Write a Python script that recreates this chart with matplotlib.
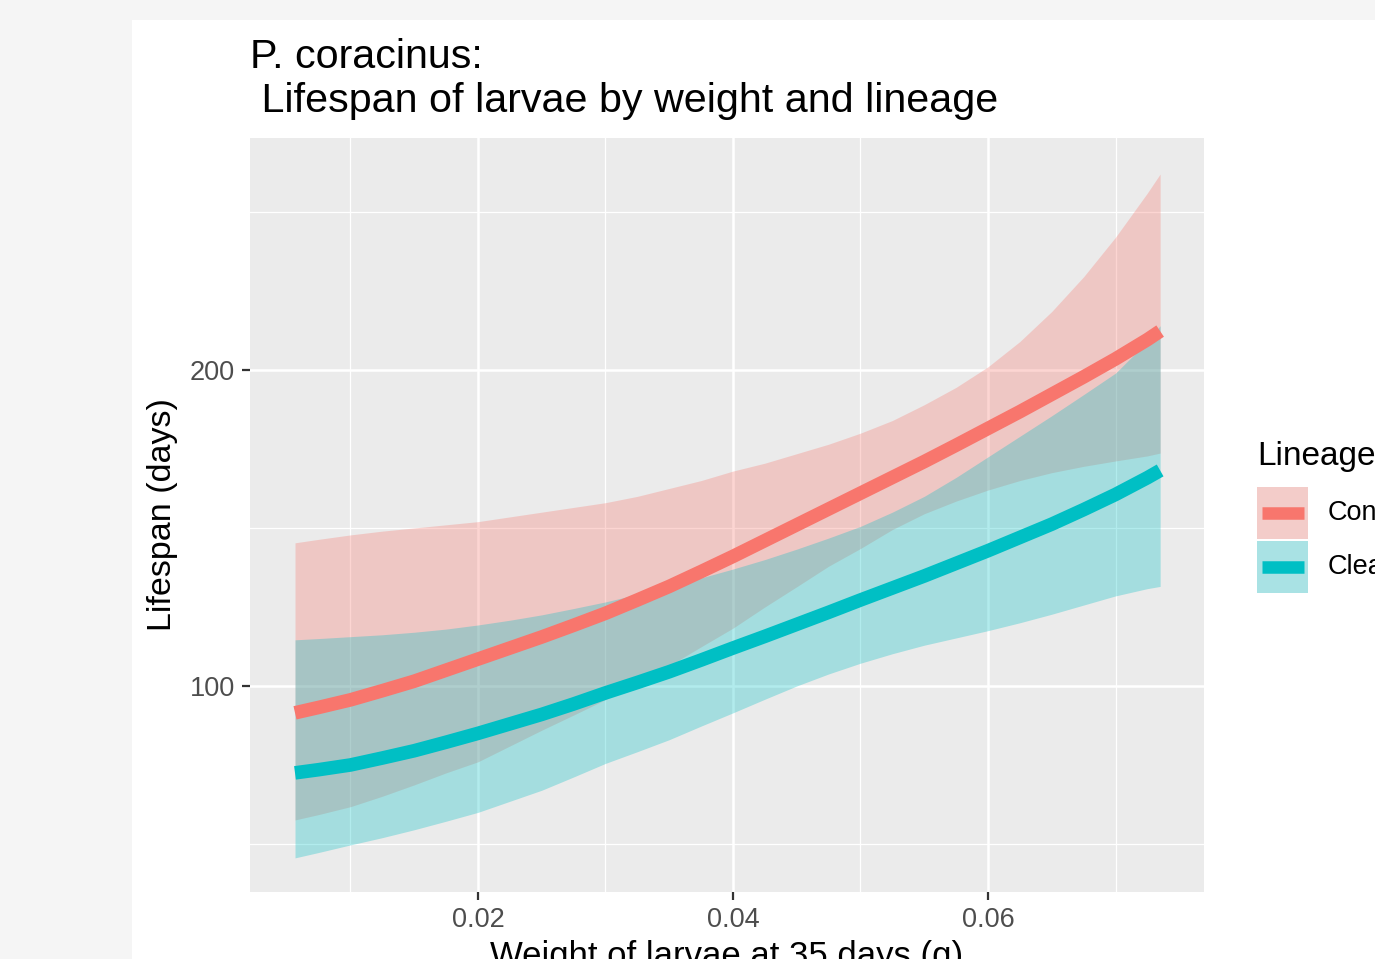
import numpy as np
import matplotlib.pyplot as plt
from matplotlib.patches import Rectangle
from matplotlib.lines import Line2D

plt.rcParams['font.family'] = ['Liberation Sans', 'DejaVu Sans']

# values
weight = [0.00565, 0.0075, 0.01, 0.0125, 0.015, 0.0175, 0.02, 0.0225, 0.025, 0.0275,
          0.03, 0.0325, 0.035, 0.0375, 0.04, 0.0425, 0.045, 0.0475, 0.05, 0.0525,
          0.055, 0.0575, 0.06, 0.0625, 0.065, 0.0675, 0.07, 0.0725, 0.0735]

con_fit = [91.5, 93.2, 95.6, 98.5, 101.5, 105, 108.5, 112, 115.5, 119.2,
           123, 127.2, 131.5, 136.2, 141, 146, 151, 156, 161, 166,
           171, 176.2, 181.5, 186.8, 192.3, 197.8, 203.5, 209.6, 212.3]
con_hi = [145.3, 146.4, 147.8, 149, 150, 151, 152, 153.5, 155, 156.5,
          158, 160, 162.5, 165, 168, 170.5, 173.5, 176.5, 180, 184,
          189, 194.5, 201, 209, 218.5, 229.5, 242, 256, 262]
con_lo = [57.6, 59.3, 61.8, 65.1, 68.7, 72.5, 76, 81, 86, 90.8,
          95.7, 101, 106.4, 112.4, 118.3, 125, 131.4, 137.9, 143.5, 149.5,
          154.5, 158.5, 162, 165, 167.5, 169.5, 171.2, 172.8, 173.7]

clea_fit = [72.5, 73.5, 75, 77.2, 79.5, 82.2, 85, 88, 91, 94.3,
            97.8, 101.1, 104.5, 108.2, 112, 115.7, 119.5, 123.3, 127.2, 131,
            134.8, 138.8, 142.8, 147, 151.2, 155.8, 160.6, 165.9, 168.2]
clea_hi = [114.6, 115, 115.6, 116.2, 117, 118, 119.3, 120.8, 122.5, 124.5,
           126.6, 129, 131.5, 134.2, 137, 140, 143.3, 146.8, 150.5, 155,
           160, 166, 172.5, 179, 185.5, 192.2, 199, 209, 214]
clea_lo = [45.6, 47.3, 49.7, 52, 54.5, 57.2, 60, 63.5, 67, 71.2,
           75.5, 79.2, 83, 87.3, 91.5, 95.8, 100, 103.8, 107.2, 110.2,
           112.9, 115.2, 117.5, 120, 122.7, 125.6, 128.5, 130.8, 131.5]

lineages = ['Control', 'Clearwater']
colors = ['#F8766D', '#00BFC4']

x_ticks = [0.02, 0.04, 0.06]
x_tick_labels = ['0.02', '0.04', '0.06']
y_ticks = [100, 200]

W, H = 1375, 959


def fx(px):
    return px / W


def fy(py):
    return 1 - py / H


fig = plt.figure(figsize=(W / 100, H / 100), dpi=100)
fig.patch.set_facecolor('#F5F5F5')
fig.add_artist(Rectangle((fx(132), 0), 1 - fx(132), fy(20), transform=fig.transFigure,
                         facecolor='white', edgecolor='none', zorder=0))

ax = fig.add_axes([fx(250), fy(892), fx(1204) - fx(250), fy(138) - fy(892)])
ax.set_facecolor('#EBEBEB')
ax.set_axisbelow(True)

series = [(con_fit, con_lo, con_hi), (clea_fit, clea_lo, clea_hi)]
for (fit, lo, hi), c in zip(series, colors):
    ax.fill_between(weight, lo, hi, color=c, alpha=0.3, lw=0)
    ax.plot(weight, fit, color=c, lw=9.8, solid_capstyle='butt', solid_joinstyle='round')

ax.set_xlim(0.00212, 0.07694)
ax.set_ylim(34.8, 273.4)
ax.set_xticks(x_ticks)
ax.set_xticklabels(x_tick_labels)
ax.set_yticks(y_ticks)
ax.set_xticks([0.01, 0.03, 0.05, 0.07], minor=True)
ax.set_yticks([50, 150, 250], minor=True)
ax.grid(which='major', color='white', lw=1.8)
ax.grid(which='minor', color='white', lw=0.9)
for s in ax.spines.values():
    s.set_visible(False)
ax.tick_params(which='major', length=5.8, width=1.6, color='#333333', pad=5,
               labelsize=19.5, labelcolor='#4D4D4D')
ax.tick_params(which='minor', length=0)

fig.text(fx(250), fy(68), 'P. coracinus:', fontsize=29.7, ha='left', va='baseline')
fig.text(fx(250), fy(112), ' Lifespan of larvae by weight and lineage', fontsize=29.7,
         ha='left', va='baseline')
fig.text(fx(163), fy(515), 'Lifespan (days)', fontsize=24.5, rotation=90,
         ha='center', va='center')
fig.text(fx(727), fy(966), 'Weight of larvae at 35 days (g)', fontsize=25,
         ha='center', va='baseline')

# legend
fig.text(fx(1257), fy(465), 'Lineage', fontsize=24, ha='left', va='baseline')
for i, (name, c) in enumerate(zip(lineages, colors)):
    top = 487 + i * 54
    fig.add_artist(Rectangle((fx(1257), fy(top + 52)), fx(51), 52 / H,
                             transform=fig.transFigure, facecolor='#F2F2F2',
                             edgecolor='none'))
    fig.add_artist(Rectangle((fx(1257), fy(top + 52)), fx(51), 52 / H,
                             transform=fig.transFigure, facecolor=c, alpha=0.3,
                             edgecolor='none'))
    cy = top + 26
    fig.add_artist(Line2D([fx(1262), fx(1304)], [fy(cy), fy(cy)], transform=fig.transFigure,
                          color=c, lw=9, solid_capstyle='butt'))
    fig.text(fx(1328), fy(cy), name, fontsize=19.5, ha='left', va='center')

fig.savefig('out.png', dpi=100, facecolor=fig.get_facecolor())
